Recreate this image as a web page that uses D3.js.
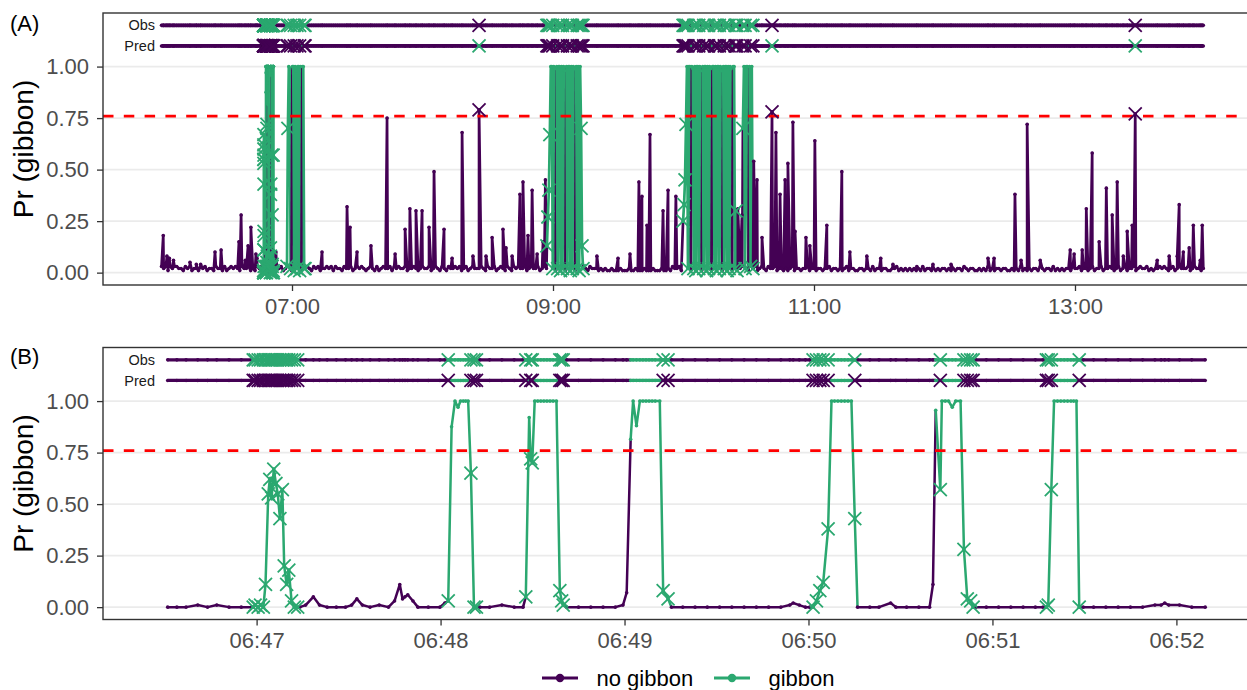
<!DOCTYPE html>
<html lang="en">
<head>
<meta charset="UTF-8">
<title>Gibbon detector output</title>
<script src="https://d3js.org/d3.v7.min.js"></script>
<style>
  body { margin: 0; background: #fff; }
  svg { display: block; font-family: "Liberation Sans", Arial, sans-serif; }
</style>
</head>
<body>
<div id="chartArea"></div>
<script>
// ---------- data ----------
const classes = ["no gibbon", "gibbon"];
const classColors = ["#440154", "#2BA870"];
const threshold = 0.76;
const yTicks = [0, 0.25, 0.5, 0.75, 1];
const rowLabels = ["Obs", "Pred"];
const rowLevels = [1.2, 1.1];
const ticksA = ["07:00", "09:00", "11:00", "13:00"];
const ticksB = ["06:47", "06:48", "06:49", "06:50", "06:51", "06:52"];

// panel A background level: one digit (hundredths) per minute, one line per hour from 06:00
const baseA = [
  "32313 23322 13231 22132 31221 32213 12323 21322 31213 23231 22132 31232",
  "23213 22321 32312 23231 32213 22312 32321 23213 12322 31323 22312 23212",
  "32231 23213 21322 32312 31232 22321 32231 23213 21323 22312 32231 23223",
  "22312 32231 23213 21322 21212 11211 12111 21121 11211 12111 21121 32231",
  "23213 22321 32231 23213 21323 22312 32231 23213 22312 21212 31221 22312",
  "21221 22312 21212 31221 12212 21312 21221 12231 21212 12121 31221 21212",
  "21212 12213 21221 12121 31212 21221 12121 31212 12213 21221 31212 12213",
  "22312 21231 22312 23212 31231 22312 32231 21223 23212 31232 22312 32212"
];

// panel A isolated peaks (no gibbon): [minutes after 06:00, Pr]
const spikesA = [
  [0.8, 0.18], [2.5, 0.08], [3.6, 0.07], [5.5, 0.06], [13.1, 0.05], [16, 0.04], [18, 0.04],
  [24.6, 0.10], [27.4, 0.11], [35.6, 0.15], [36.6, 0.28], [38.5, 0.06], [39.8, 0.13], [41.1, 0.22],
  [43.4, 0.09], [43.9, 0.07], [52.6, 0.10], [73.8, 0.10], [85.3, 0.32], [86.7, 0.22], [89.9, 0.10],
  [96.3, 0.13], [103.7, 0.75], [107.4, 0.09], [112.0, 0.21], [114.2, 0.31], [117.0, 0.30],
  [119.8, 0.30], [123.0, 0.22], [125.3, 0.49], [129.9, 0.21], [133.6, 0.07], [138.2, 0.68],
  [143.2, 0.08], [146.0, 0.79], [149.2, 0.08], [152.0, 0.17], [157.0, 0.21], [158.4, 0.12],
  [161.2, 0.08], [164.8, 0.38], [166.2, 0.44], [168.5, 0.18], [170.4, 0.40], [172.7, 0.09],
  [175.4, 0.15], [176.5, 0.45], [200.2, 0.08], [209.9, 0.07], [215.4, 0.09], [219.5, 0.44],
  [220.9, 0.37], [223.2, 0.23], [224.6, 0.67], [230.6, 0.30], [232.9, 0.40], [236.5, 0.37],
  [265.0, 0.31], [266.9, 0.28], [272.3, 0.54], [273.8, 0.45], [276.1, 0.17], [280.7, 0.78],
  [282.5, 0.68], [284.4, 0.38], [286.7, 0.45], [288.0, 0.53], [290.3, 0.73], [291.3, 0.20],
  [296.3, 0.17], [298.1, 0.13], [300.4, 0.64], [305.9, 0.23], [312.8, 0.49], [316.5, 0.10],
  [324.3, 0.08], [330.7, 0.07], [336.3, 0.04], [347.3, 0.03], [354.7, 0.04], [363.0, 0.04],
  [380.0, 0.07], [382.8, 0.07], [392.4, 0.38], [395.2, 0.06], [398.0, 0.72], [404.0, 0.06],
  [417.8, 0.11], [419.6, 0.09], [423.3, 0.11], [425.2, 0.31], [427.9, 0.58], [431.1, 0.15],
  [434.4, 0.41], [437.1, 0.28], [439.4, 0.44], [442.2, 0.08], [444.0, 0.20], [446.3, 0.23],
  [447.7, 0.77], [457.8, 0.06], [463.3, 0.08], [467.0, 0.08], [467.9, 0.33], [469.8, 0.10],
  [472.5, 0.12], [474.4, 0.23], [477.6, 0.06], [478.5, 0.23]
];

// panel A calling bouts (regular windows between start and end, minutes after 06:00)
const boutStartA = [57.7, 177.2, 239.8, 267.3];
const boutEndA = [66.0, 193.8, 264.6, 271.9];
const boutValsA = [
  [0.03, 0.70, 1, 0.99, 0.02, 0.01, 1, 1, 0.01, 1, 0.98, 0.02, 1, 1, 0.01, 1, 0.01, 1, 1, 0.02, 0.02],
  [0.13, 0.27, 0.40, 0.67, 1, 1, 0.02, 1, 0.99, 0.01, 1, 0.02, 1, 1, 0.01, 1, 0.02, 1, 0.98, 0.01,
   1, 0.02, 1, 1, 0.01, 1, 0.02, 1, 0.99, 0.01, 1, 0.02, 1, 0.01, 1, 0.70, 0.13, 0.02],
  [0.25, 0.33, 0.45, 0.72, 1, 0.02, 1, 1, 0.01, 1, 0.99, 0.02, 1, 0.01, 1, 1,
   0.02, 1, 0.98, 0.01, 1, 0.02, 1, 1, 0.01, 1, 0.02, 1, 0.99, 0.01, 1, 1,
   0.02, 1, 0.01, 1, 1, 0.02, 1, 0.98, 0.01, 1, 0.02, 1, 1, 0.01, 1, 0.02,
   1, 0.99, 0.01, 1, 1, 0.02, 0.30, 0.01],
  [0.70, 1, 0.02, 1, 1, 0.01, 1, 0.03, 1, 0.02]
];
const boutLabsA = [
  "gggggnggggggggggngggg",
  "gggggggggngggggggggngggggggggngggggggg",
  "ggggggggnggggggggggngggggggggnggggggggggngggggggggnggggg",
  "gggggngggg"
];

// panel B: [seconds after 06:46:00, Pr, observed label]
const pointsB = [
  [31, 0.00, "n"], [34, 0.00, "n"], [37, 0.00, "n"], [40.8, 0.01, "n"], [44, 0.00, "n"], [47, 0.01, "n"],
  [51, 0.00, "n"], [55, 0.00, "n"], [58.4, 0.00, "n"],
  [58.9, 0.00, "g"], [59.5, 0.01, "g"], [60.5, 0.00, "g"], [61.3, 0.01, "g"], [62.2, 0.00, "g"],
  [62.9, 0.11, "g"], [63.8, 0.55, "g"], [64.3, 0.62, "g"], [64.9, 0.53, "g"], [65.6, 0.67, "g"],
  [66.3, 0.60, "g"], [66.9, 0.55, "g"], [67.6, 0.43, "g"], [68.4, 0.57, "g"], [69.0, 0.20, "g"],
  [69.8, 0.11, "g"], [70.5, 0.18, "g"], [71.4, 0.03, "g"], [72.3, 0.00, "g"], [73.4, 0.00, "g"],
  [74.1, 0.00, "n"], [76, 0.01, "n"], [78.5, 0.05, "n"], [80.5, 0.01, "n"], [83, 0.00, "n"],
  [86, 0.00, "n"], [89, 0.00, "n"], [91, 0.01, "n"], [92.7, 0.04, "n"], [94.5, 0.01, "n"],
  [97, 0.00, "n"], [100, 0.01, "n"], [103, 0.00, "n"], [105, 0.03, "n"], [106.7, 0.11, "n"],
  [107.6, 0.04, "n"], [108.4, 0.05, "n"], [109.3, 0.06, "n"], [111, 0.03, "n"], [112.6, 0.00, "n"],
  [116, 0.00, "n"], [119.8, 0.00, "n"], [121.4, 0.02, "n"],
  [122.5, 0.03, "g"], [123.6, 0.875, "g"], [124.7, 1.00, "g"], [125.7, 0.97, "g"], [126.5, 1.00, "g"],
  [127.4, 1.00, "g"], [128.2, 1.00, "g"], [129.0, 1.00, "g"], [129.9, 0.65, "g"], [130.9, 0.00, "g"],
  [131.7, 0.00, "g"],
  [132.8, 0.00, "n"], [136, 0.00, "n"], [140, 0.01, "n"], [144, 0.00, "n"], [146.9, 0.00, "n"],
  [147.8, 0.05, "g"], [148.9, 0.92, "g"], [149.4, 0.72, "g"], [149.9, 0.70, "g"], [150.7, 1.00, "g"],
  [151.7, 1.00, "g"], [152.7, 1.00, "g"], [153.7, 1.00, "g"], [154.7, 1.00, "g"], [155.7, 1.00, "g"],
  [156.7, 1.00, "g"], [157.8, 1.00, "g"], [158.9, 0.08, "g"], [159.5, 0.03, "g"], [160.0, 0.01, "g"],
  [161.1, 0.00, "n"], [165, 0.00, "n"], [169, 0.00, "n"], [173, 0.00, "n"], [177, 0.00, "n"],
  [179.5, 0.01, "n"], [180.7, 0.07, "n"],
  [182.0, 0.815, "g"], [182.8, 1.00, "g"], [183.9, 0.88, "g"], [185.0, 1.00, "g"], [186, 1.00, "g"],
  [187, 1.00, "g"], [188, 1.00, "g"], [189, 1.00, "g"], [190, 1.00, "g"], [191.5, 1.00, "g"],
  [192.6, 0.08, "g"], [194.2, 0.04, "g"],
  [195.3, 0.00, "n"], [199, 0.00, "n"], [203, 0.00, "n"], [207, 0.00, "n"], [211, 0.00, "n"],
  [215, 0.00, "n"], [219, 0.00, "n"], [223, 0.00, "n"], [227, 0.00, "n"], [231, 0.00, "n"],
  [233.9, 0.01, "n"], [235, 0.02, "n"], [237, 0.01, "n"], [239, 0.00, "n"], [240.4, 0.00, "n"],
  [241.5, 0.00, "g"], [242.6, 0.03, "g"], [243.7, 0.08, "g"], [244.8, 0.12, "g"], [246.4, 0.38, "g"],
  [247.5, 1.00, "g"], [248.5, 1.00, "g"], [249.6, 1.00, "g"], [250.7, 1.00, "g"], [251.8, 1.00, "g"],
  [252.9, 1.00, "g"], [254.0, 1.00, "g"], [255.1, 0.43, "g"],
  [256.0, 0.00, "n"], [260, 0.00, "n"], [263, 0.00, "n"], [266.8, 0.02, "n"], [268.5, 0.00, "n"],
  [272, 0.00, "n"], [276, 0.00, "n"], [279.5, 0.00, "n"], [280.6, 0.11, "n"],
  [281.5, 0.955, "g"], [283.0, 0.57, "g"], [283.5, 1.00, "g"], [284.6, 1.00, "g"], [285.7, 1.00, "g"],
  [286.9, 0.97, "g"], [288.0, 1.00, "g"], [289.6, 1.00, "g"], [290.7, 0.28, "g"], [291.8, 0.04, "g"],
  [292.9, 0.03, "g"], [293.7, 0.00, "g"],
  [294.5, 0.00, "n"], [298, 0.00, "n"], [302, 0.00, "n"], [306, 0.00, "n"], [310, 0.00, "n"],
  [314, 0.00, "n"], [316.5, 0.00, "n"],
  [317.6, 0.00, "g"], [318.2, 0.01, "g"], [319.2, 0.57, "g"], [320.1, 1.00, "g"], [321.2, 1.00, "g"],
  [322.3, 1.00, "g"], [323.4, 1.00, "g"], [324.5, 1.00, "g"], [325.6, 1.00, "g"], [326.5, 1.00, "g"],
  [327.4, 1.00, "g"], [328.3, 0.00, "g"],
  [329.6, 0.00, "n"], [333, 0.00, "n"], [337, 0.00, "n"], [341, 0.00, "n"], [345, 0.00, "n"],
  [349, 0.00, "n"], [353, 0.01, "n"], [355, 0.01, "n"], [356.2, 0.02, "n"], [357.5, 0.01, "n"],
  [361, 0.01, "n"], [365, 0.00, "n"], [369.4, 0.00, "n"]
];

// ---------- build series ----------
const t0A = new Date(2000, 0, 1, 6, 0, 0).getTime();
const t0B = new Date(2000, 0, 1, 6, 46, 0).getTime();

const bStartMin = pointsB[0][0] / 60 + 46;
const bEndMin = pointsB[pointsB.length - 1][0] / 60 + 46;

let seriesA = [];
baseA.join("").replace(/ /g, "").split("").forEach((d, m) => {
  if (m > bStartMin && m < bEndMin) return;
  for (let k = 0; k < boutStartA.length; k++) {
    if (m >= boutStartA[k] && m <= boutEndA[k]) return;
  }
  seriesA.push({ t: m, v: +d / 100, g: 0 });
});
spikesA.forEach(d => seriesA.push({ t: d[0], v: d[1], g: 0 }));
pointsB.forEach(d => seriesA.push({ t: d[0] / 60 + 46, v: d[1], g: d[2] === "g" ? 1 : 0 }));
boutValsA.forEach((vals, k) => {
  const step = (boutEndA[k] - boutStartA[k]) / (vals.length - 1);
  vals.forEach((v, i) => {
    seriesA.push({ t: boutStartA[k] + i * step, v: v, g: boutLabsA[k][i] === "n" ? 0 : 1 });
  });
});
seriesA.sort((a, b) => a.t - b.t);
seriesA.forEach(d => { d.time = new Date(t0A + d.t * 60000); });

const seriesB = pointsB.map(d => ({ time: new Date(t0B + d[0] * 1000), v: d[1], g: d[2] === "g" ? 1 : 0 }));

function clock(s) {
  const p = s.split(":");
  return new Date(2000, 0, 1, +p[0], +p[1], 0);
}

// ---------- drawing ----------
const W = 1247, H = 690;
const svg = d3.select("#chartArea").append("svg")
  .attr("width", W).attr("height", H);

const panels = [
  {
    label: "(A)", labelY: 30.5, top: 13, bottom: 285, left: 103, right: 1264,
    x: d3.scaleTime().domain([new Date(t0A - 26.9 * 60000), new Date(t0A + 506.9 * 60000)]),
    series: seriesA, ticks: ticksA.map(clock), lw: 2.7, rw: 3.8
  },
  {
    label: "(B)", labelY: 364, top: 347.5, bottom: 619.5, left: 103, right: 1269,
    x: d3.scaleTime().domain([new Date(t0B + 9.9 * 1000), new Date(t0B + 390.2 * 1000)]),
    series: seriesB, ticks: ticksB.map(clock), lw: 2.5, rw: 3.2
  }
];

function colorRuns(pts, key) {
  const out = [];
  for (let i = 0; i < pts.length - 1; i++) {
    const c = key(pts[i]);
    if (out.length && out[out.length - 1].c === c) out[out.length - 1].pts.push(pts[i + 1]);
    else out.push({ c: c, pts: [pts[i], pts[i + 1]] });
  }
  return out;
}

const cross = "M-6.5,-6.5L6.5,6.5M-6.5,6.5L6.5,-6.5";
const pred = d => (d.v > threshold ? 1 : 0);
const wrong = d => pred(d) !== d.g;

panels.forEach(p => {
  const x = p.x.range([p.left, p.right]);
  const y = d3.scaleLinear().domain([-0.06, 1.26]).range([p.bottom, p.top]);
  const g = svg.append("g");

  // grid
  g.selectAll(".grid").data(yTicks).enter().append("line")
    .attr("x1", p.left).attr("x2", p.right)
    .attr("y1", d => y(d)).attr("y2", d => y(d))
    .attr("stroke", "#ebebeb").attr("stroke-width", 1.8);

  // three tracks: main probability, Obs row, Pred row
  const tracks = [
    { yv: d => y(d.v), key: d => d.g, w: p.lw },
    { yv: () => y(rowLevels[0]), key: d => d.g, w: p.rw },
    { yv: () => y(rowLevels[1]), key: pred, w: p.rw }
  ];

  tracks.forEach(tr => {
    const line = d3.line().x(d => x(d.time)).y(tr.yv);
    colorRuns(p.series, tr.key).forEach(r => {
      g.append("path").attr("d", line(r.pts))
        .attr("fill", "none").attr("stroke", classColors[r.c])
        .attr("stroke-width", tr.w).attr("stroke-linejoin", "round");
    });
  });

  tracks.forEach(tr => {
    g.append("g").selectAll("circle").data(p.series).enter().append("circle")
      .attr("cx", d => x(d.time)).attr("cy", tr.yv).attr("r", 1.8)
      .attr("fill", d => classColors[tr.key(d)]);
  });

  // threshold
  g.append("line")
    .attr("x1", p.left).attr("x2", p.right)
    .attr("y1", y(threshold)).attr("y2", y(threshold))
    .attr("stroke", "#ff0000").attr("stroke-width", 2.7)
    .attr("stroke-dasharray", "10.5,10.3");

  // misclassified windows
  const bad = p.series.filter(wrong);
  tracks.forEach(tr => {
    g.append("g").selectAll("path").data(bad).enter().append("path")
      .attr("d", cross)
      .attr("transform", d => `translate(${x(d.time)},${tr.yv(d)})`)
      .attr("fill", "none").attr("stroke", d => classColors[tr.key(d)])
      .attr("stroke-width", 1.8);
  });

  // row labels
  rowLabels.forEach((lab, i) => {
    g.append("text").attr("x", 155).attr("y", y(rowLevels[i])).attr("dy", "0.35em")
      .attr("text-anchor", "end").attr("font-size", 14.5).attr("fill", "#1a1a1a").text(lab);
  });

  // border
  g.append("rect")
    .attr("x", p.left).attr("y", p.top)
    .attr("width", p.right - p.left).attr("height", p.bottom - p.top)
    .attr("fill", "none").attr("stroke", "#333333").attr("stroke-width", 1.4);

  // axes
  const styleAxis = a => {
    a.select(".domain").remove();
    a.attr("font-family", null).attr("font-size", null);
    a.selectAll("line").attr("stroke", "#333333").attr("stroke-width", 1.3);
    a.selectAll("text").attr("fill", "#4d4d4d").attr("font-size", 22);
  };
  g.append("g").attr("transform", `translate(0,${p.bottom})`)
    .call(d3.axisBottom(x).tickValues(p.ticks).tickFormat(d3.timeFormat("%H:%M"))
      .tickSize(6).tickPadding(7))
    .call(styleAxis);
  g.append("g").attr("transform", `translate(${p.left},0)`)
    .call(d3.axisLeft(y).tickValues(yTicks).tickFormat(d3.format(".2f"))
      .tickSize(6).tickPadding(8))
    .call(styleAxis);

  // y title and panel tag
  g.append("text")
    .attr("transform", `translate(33,${(p.top + p.bottom) / 2}) rotate(-90)`)
    .attr("text-anchor", "middle").attr("font-size", 28).attr("fill", "#000")
    .text("Pr (gibbon)");
  g.append("text").attr("x", 10).attr("y", p.labelY)
    .attr("font-size", 22).attr("fill", "#000").text(p.label);
});

// legend
const legX = [542, 714];
const legend = svg.append("g");
classes.forEach((c, i) => {
  legend.append("line").attr("x1", legX[i]).attr("x2", legX[i] + 36)
    .attr("y1", 678).attr("y2", 678)
    .attr("stroke", classColors[i]).attr("stroke-width", 3);
  legend.append("circle").attr("cx", legX[i] + 18).attr("cy", 678).attr("r", 4.2)
    .attr("fill", classColors[i]);
  legend.append("text").attr("x", legX[i] + 54.5).attr("y", 685.5)
    .attr("font-size", 22).attr("fill", "#000").text(c);
});
</script>
</body>
</html>
